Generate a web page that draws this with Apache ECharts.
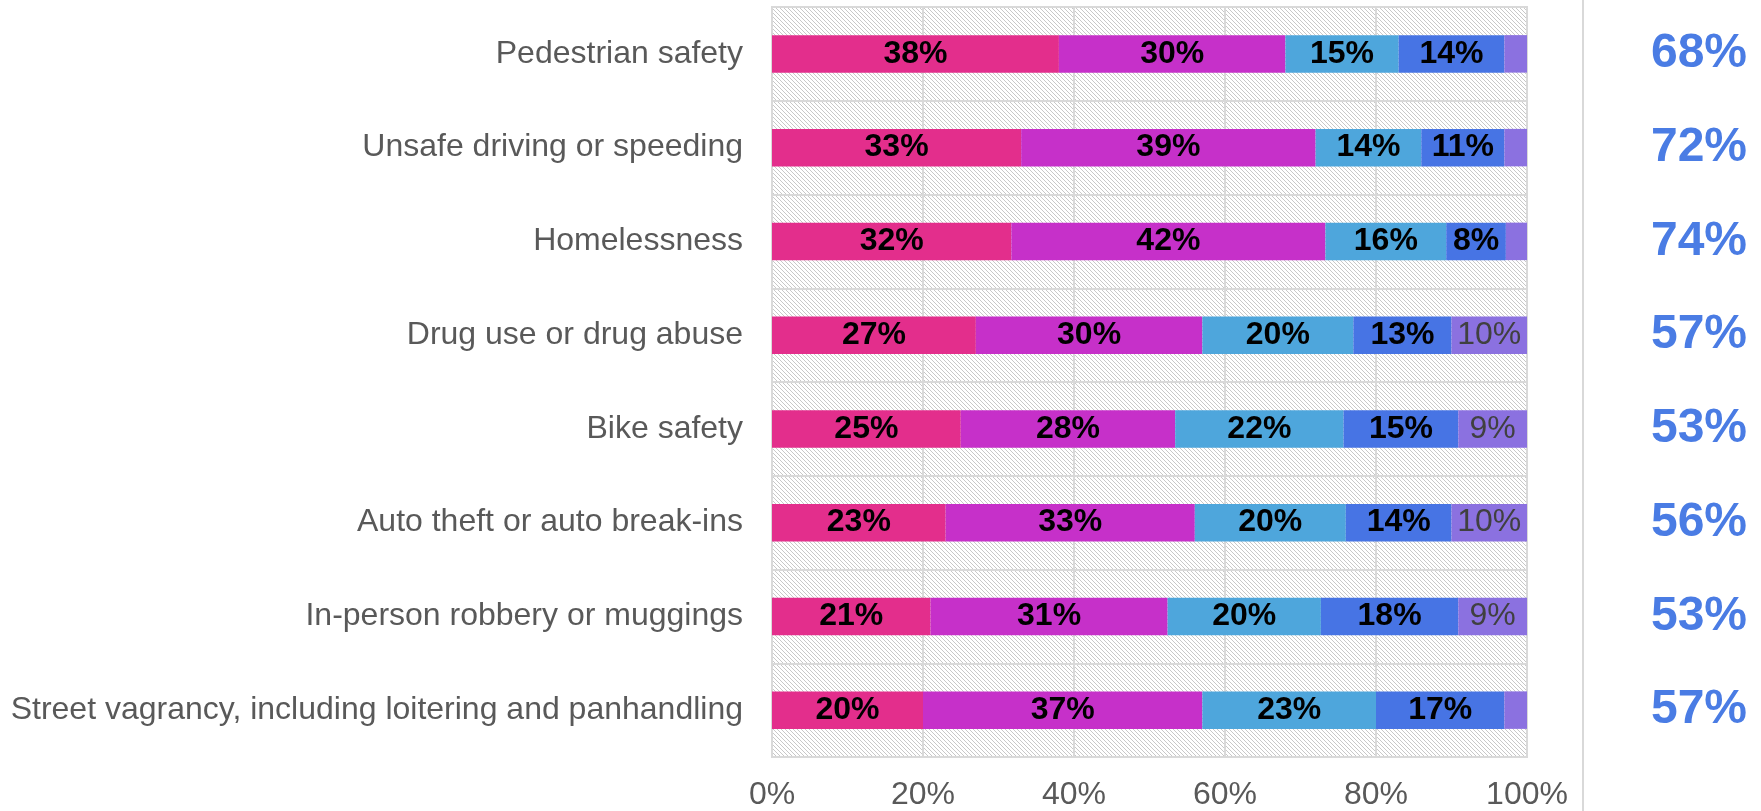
<!DOCTYPE html>
<html>
<head>
<meta charset="utf-8">
<script src="https://cdn.jsdelivr.net/npm/echarts@6/dist/echarts.min.js"></script>
<style>
html,body{margin:0;padding:0;background:#fff;}
#chart{width:1761px;height:811px;}
</style>
</head>
<body>
<div id="chart"></div>
<script>
const categories = [
  "Pedestrian safety",
  "Unsafe driving or speeding",
  "Homelessness",
  "Drug use or drug abuse",
  "Bike safety",
  "Auto theft or auto break-ins",
  "In-person robbery or muggings",
  "Street vagrancy, including loitering and panhandling"
];
const seriesA = [38, 33, 31.7, 27, 25.0, 23, 21.0, 20];
const seriesB = [30, 39, 41.6, 30, 28.4, 33, 31.4, 37];
const seriesC = [15, 14, 16.0, 20, 22.3, 20, 20.3, 23];
const seriesD = [14, 11, 7.9, 13, 15.2, 14, 18.2, 17];
const seriesE = [3, 3, 2.8, 10, 9.1, 10, 9.1, 3];
const totals = [68, 72, 74, 57, 53, 56, 53, 57];
const xTicks = [0, 20, 40, 60, 80, 100];

const colors = ['#E32E8C', '#C630C9', '#4EA6DC', '#4774E4', '#8B71E0'];
const FONT = '"Liberation Sans", Arial, sans-serif';

// hatch pattern
const pc = document.createElement('canvas');
pc.width = 4; pc.height = 4;
const pctx = pc.getContext('2d');
pctx.fillStyle = '#ffffff';
pctx.fillRect(0, 0, 4, 4);
pctx.fillStyle = '#c8c8c8';
for (let i = 0; i < 4; i++) { pctx.fillRect(i, i, 1, 1); }

const chart = echarts.init(document.getElementById('chart'), null, {renderer: 'canvas'});

function mk(name, data, idx, strong) {
  return {
    name: name,
    type: 'bar',
    stack: 'total',
    data: data,
    barWidth: '40%',
    itemStyle: {color: colors[idx]},
    label: {
      show: true,
      position: 'inside',
      fontFamily: FONT,
      fontSize: 32,
      fontWeight: strong ? 'bold' : 'normal',
      color: strong ? '#000000' : '#404040',
      formatter: p => (p.value >= 5 ? Math.round(p.value) + '%' : '')
    },
    emphasis: {disabled: true}
  };
}

chart.setOption({
  animation: false,
  grid: {
    left: 772, right: 234, top: 7, bottom: 54,
    show: true,
    backgroundColor: {image: pc, repeat: 'repeat'},
    borderColor: '#d9d9d9',
    borderWidth: 2
  },
  xAxis: {
    type: 'value',
    min: 0, max: 100, interval: 20,
    axisLine: {show: false},
    axisTick: {show: false},
    splitLine: {show: true, lineStyle: {color: '#d9d9d9', width: 2}},
    axisLabel: {
      fontFamily: FONT, fontSize: 32, color: '#595959', margin: 22,
      formatter: v => (xTicks.indexOf(v) >= 0 ? v + '%' : '')
    }
  },
  yAxis: [{
    type: 'category',
    data: categories,
    inverse: true,
    axisLine: {show: false},
    axisTick: {show: false},
    splitLine: {show: true, lineStyle: {color: '#d9d9d9', width: 2}},
    axisLabel: {fontFamily: FONT, fontSize: 32, color: '#595959', margin: 29}
  }, {
    type: 'category',
    data: totals.map(v => v + '%'),
    inverse: true,
    position: 'right',
    axisLine: {show: false},
    axisTick: {show: false},
    splitLine: {show: false},
    axisLabel: {fontFamily: FONT, fontSize: 48, fontWeight: 'bold', color: '#4A7CE4', margin: 172, align: 'center'}
  }],
  graphic: [{
    type: 'line',
    shape: {x1: 1583, y1: 0, x2: 1583, y2: 811},
    style: {stroke: '#d9d9d9', lineWidth: 2},
    silent: true
  }],
  series: [
    mk('A', seriesA, 0, true),
    mk('B', seriesB, 1, true),
    mk('C', seriesC, 2, true),
    mk('D', seriesD, 3, true),
    mk('E', seriesE, 4, false)
  ]
});
</script>
</body>
</html>
